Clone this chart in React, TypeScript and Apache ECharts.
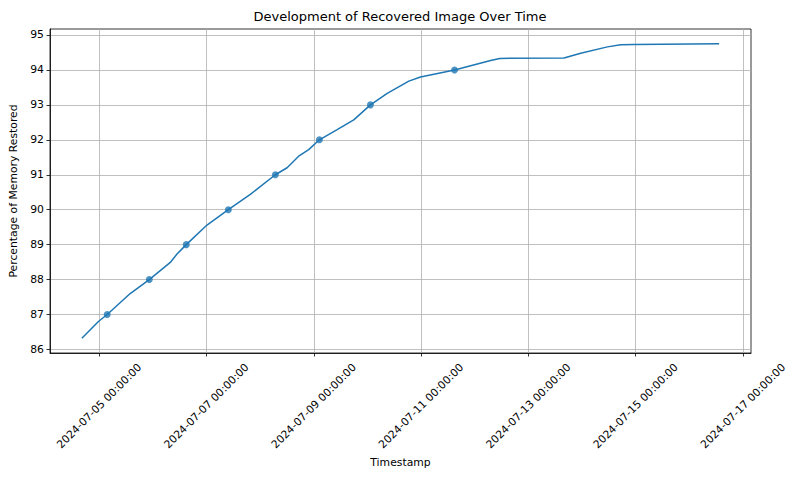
import { useRef, useEffect } from 'react'
import * as echarts from 'echarts'

// Readings of the recovered-memory percentage over time
const timestamps = [
  '2024-07-04T16:15', '2024-07-04T23:40', '2024-07-05T03:35', '2024-07-05T13:52',
  '2024-07-05T22:24', '2024-07-06T07:48', '2024-07-06T10:48', '2024-07-06T14:57',
  '2024-07-07T00:13', '2024-07-07T09:46', '2024-07-07T19:36', '2024-07-08T06:48',
  '2024-07-08T12:03', '2024-07-08T17:14', '2024-07-08T21:43', '2024-07-09T02:30',
  '2024-07-09T10:26', '2024-07-09T17:52', '2024-07-10T01:20', '2024-07-10T08:50',
  '2024-07-10T18:30', '2024-07-10T23:44', '2024-07-11T14:57', '2024-07-12T07:05',
  '2024-07-12T11:07', '2024-07-13T15:53', '2024-07-13T23:23', '2024-07-14T11:20',
  '2024-07-14T17:17', '2024-07-14T23:14', '2024-07-16T13:18',
]
const restored = [
  86.32, 86.8, 87.0, 87.6,
  88.0, 88.49, 88.73, 89.0,
  89.56, 90.0, 90.44, 91.0,
  91.2, 91.53, 91.72, 92.0,
  92.29, 92.57, 93.0, 93.33,
  93.68, 93.8, 94.0, 94.27,
  94.33, 94.34, 94.48, 94.66,
  94.72, 94.73, 94.75,
]

// Milestones marked with a dot (each whole percent)
const milestoneTimes = [
  '2024-07-05T03:35', '2024-07-05T22:24', '2024-07-06T14:57', '2024-07-07T09:46',
  '2024-07-08T06:48', '2024-07-09T02:30', '2024-07-10T01:20', '2024-07-11T14:57',
]
const milestoneValues = [87, 88, 89, 90, 91, 92, 93, 94]

const xTicks = [
  '2024-07-05T00:00', '2024-07-07T00:00', '2024-07-09T00:00', '2024-07-11T00:00',
  '2024-07-13T00:00', '2024-07-15T00:00', '2024-07-17T00:00',
]
const yTicks = [86, 87, 88, 89, 90, 91, 92, 93, 94, 95]

const ms = (s: string) => new Date(s + ':00').getTime()
const pad = (n: number) => String(n).padStart(2, '0')
const fmtDate = (v: number) => {
  const d = new Date(v)
  return `${d.getFullYear()}-${pad(d.getMonth() + 1)}-${pad(d.getDate())} ${pad(d.getHours())}:${pad(d.getMinutes())}:${pad(d.getSeconds())}`
}

const FONT = '"DejaVu Sans", sans-serif'
const BLUE = '#1f77b4'
const TICK_FONT = 10.8

export default function App() {
  const chartRef = useRef<HTMLDivElement>(null)

  useEffect(() => {
    if (!chartRef.current) return
    const chart = echarts.init(chartRef.current, null, { renderer: 'svg' })

    // matplotlib-like 5% margins around the data
    const first = ms(timestamps[0])
    const last = ms(timestamps[timestamps.length - 1])
    const xPad = (last - first) * 0.05
    const yMinData = Math.min(...restored)
    const yMaxData = Math.max(...restored)
    const yPad = (yMaxData - yMinData) * 0.05

    chart.setOption({
      animation: false,
      backgroundColor: '#fff',
      textStyle: { fontFamily: FONT },
      title: {
        text: 'Development of Recovered Image Over Time',
        left: 'center',
        top: 5,
        textStyle: { fontFamily: FONT, fontSize: 13, fontWeight: 'normal', color: '#000' },
      },
      grid: {
        left: 50,
        right: 49,
        top: 29,
        bottom: 127,
        show: true,
        borderColor: '#000',
        borderWidth: 0.8,
        containLabel: false,
      },
      xAxis: {
        type: 'value',
        min: first - xPad,
        max: last + xPad,
        name: 'Timestamp',
        nameLocation: 'middle',
        nameGap: 103,
        nameTextStyle: { fontFamily: FONT, fontSize: TICK_FONT, color: '#000' },
        axisLine: { show: true, lineStyle: { color: '#000', width: 0.8 } },
        axisTick: {
          show: true,
          inside: false,
          length: 3.5,
          lineStyle: { color: '#000', width: 0.8 },
          customValues: xTicks.map(ms),
        },
        axisLabel: {
          rotate: 45,
          align: 'center',
          verticalAlign: 'middle',
          fontFamily: FONT,
          fontSize: TICK_FONT,
          color: '#000',
          margin: 53,
          customValues: xTicks.map(ms),
          formatter: (v: number) => fmtDate(v),
        },
        splitLine: { show: true, lineStyle: { color: '#b0b0b0', width: 0.8 } },
      },
      yAxis: {
        type: 'value',
        min: yMinData - yPad,
        max: yMaxData + yPad,
        name: 'Percentage of Memory Restored',
        nameLocation: 'middle',
        nameGap: 28,
        nameTextStyle: { fontFamily: FONT, fontSize: TICK_FONT, color: '#000' },
        axisLine: { show: true, lineStyle: { color: '#000', width: 0.8 } },
        axisTick: {
          show: true,
          inside: false,
          length: 3.5,
          lineStyle: { color: '#000', width: 0.8 },
          customValues: yTicks,
        },
        axisLabel: {
          fontFamily: FONT,
          fontSize: TICK_FONT,
          color: '#000',
          margin: 6,
          customValues: yTicks,
          formatter: (v: number) => String(Math.round(v)),
        },
        splitLine: { show: true, lineStyle: { color: '#b0b0b0', width: 0.8 } },
      },
      series: [
        {
          name: 'Restored',
          type: 'line',
          data: timestamps.map((t, i) => [ms(t), restored[i]]),
          showSymbol: false,
          symbol: 'none',
          lineStyle: { color: BLUE, width: 1.5 },
          itemStyle: { color: BLUE },
        },
        {
          name: 'Milestones',
          type: 'scatter',
          data: milestoneTimes.map((t, i) => [ms(t), milestoneValues[i]]),
          symbol: 'circle',
          symbolSize: 7,
          itemStyle: { color: BLUE },
        },
      ],
    })

    return () => chart.dispose()
  }, [])

  return (
    <div
      ref={chartRef}
      style={{ position: 'fixed', left: 0, top: 0, width: 800, height: 480 }}
    />
  )
}
